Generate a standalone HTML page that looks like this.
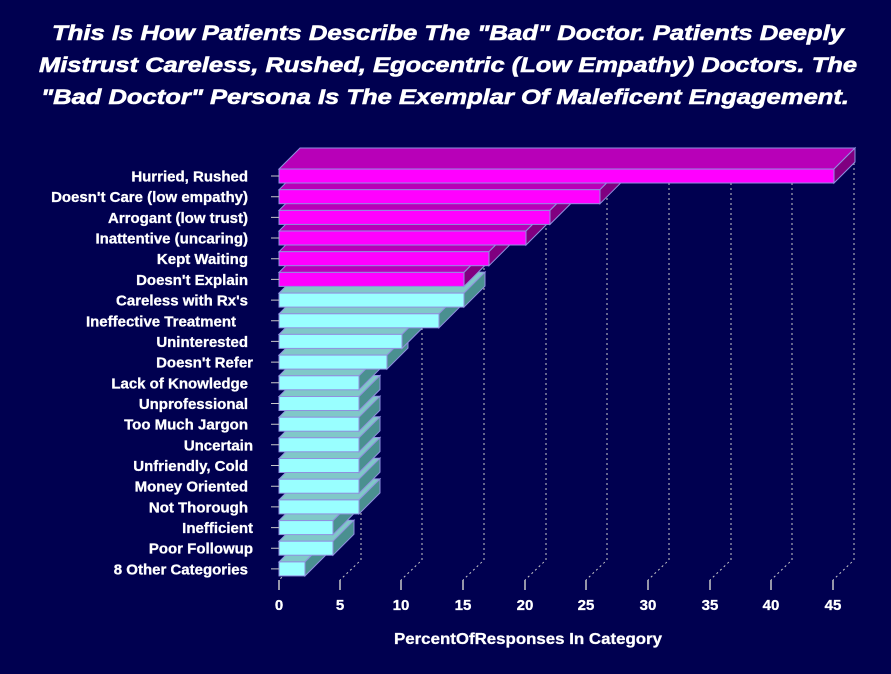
<!DOCTYPE html>
<html><head><meta charset="utf-8"><style>
html,body{margin:0;padding:0;background:#000050;}
svg{display:block;}
text{font-family:"Liberation Sans",sans-serif;fill:#fff;font-weight:bold;}
</style></head><body>
<svg width="891" height="674" viewBox="0 0 891 674" xmlns="http://www.w3.org/2000/svg">
<rect width="891" height="674" fill="#000050"/>
<g font-style="italic" font-size="21" text-anchor="middle" stroke="#fff" stroke-width="0.6">
<text x="448" y="40" textLength="792" lengthAdjust="spacingAndGlyphs">This Is How Patients Describe The "Bad" Doctor. Patients Deeply</text>
<text x="448" y="72" textLength="818" lengthAdjust="spacingAndGlyphs">Mistrust Careless, Rushed, Egocentric (Low Empathy) Doctors. The</text>
<text x="445" y="104" textLength="808" lengthAdjust="spacingAndGlyphs">"Bad Doctor" Persona Is The Exemplar Of Maleficent Engagement.</text>
</g>
<g stroke="#c8c8c8" stroke-width="1" stroke-dasharray="2,3" fill="none">
<path d="M361 148V560L340 580"/><path d="M422 148V560L401 580"/><path d="M484 148V560L463 580"/><path d="M546 148V560L525 580"/><path d="M607 148V560L586 580"/><path d="M669 148V560L648 580"/><path d="M731 148V560L710 580"/><path d="M792 148V560L771 580"/><path d="M854 148V560L833 580"/><path d="M300 560L279 580"/>
</g>
<g stroke="#c8c8c8" stroke-width="1.5">
<path d="M279 580v10M340 580v10M401 580v10M463 580v10M525 580v10M586 580v10M648 580v10M710 580v10M771 580v10M833 580v10"/>
</g>
<g stroke="#9090e0" stroke-width="1">
<g fill="#99ffff"><polygon points="279,561.9 300,540.9 326,540.9 305,561.9" fill="#80c8c8"/><polygon points="305,561.9 326,540.9 326,554.9 305,575.9" fill="#4a9090"/><rect x="279" y="561.9" width="26" height="14"/></g>
<g fill="#99ffff"><polygon points="279,541.2 300,520.2 354,520.2 333,541.2" fill="#80c8c8"/><polygon points="333,541.2 354,520.2 354,534.2 333,555.2" fill="#4a9090"/><rect x="279" y="541.2" width="54" height="14"/></g>
<g fill="#99ffff"><polygon points="279,520.6 300,499.6 354,499.6 333,520.6" fill="#80c8c8"/><polygon points="333,520.6 354,499.6 354,513.6 333,534.6" fill="#4a9090"/><rect x="279" y="520.6" width="54" height="14"/></g>
<g fill="#99ffff"><polygon points="279,499.9 300,478.9 380,478.9 359,499.9" fill="#80c8c8"/><polygon points="359,499.9 380,478.9 380,492.9 359,513.9" fill="#4a9090"/><rect x="279" y="499.9" width="80" height="14"/></g>
<g fill="#99ffff"><polygon points="279,479.2 300,458.2 380,458.2 359,479.2" fill="#80c8c8"/><polygon points="359,479.2 380,458.2 380,472.2 359,493.2" fill="#4a9090"/><rect x="279" y="479.2" width="80" height="14"/></g>
<g fill="#99ffff"><polygon points="279,458.5 300,437.5 380,437.5 359,458.5" fill="#80c8c8"/><polygon points="359,458.5 380,437.5 380,451.5 359,472.5" fill="#4a9090"/><rect x="279" y="458.5" width="80" height="14"/></g>
<g fill="#99ffff"><polygon points="279,437.8 300,416.8 380,416.8 359,437.8" fill="#80c8c8"/><polygon points="359,437.8 380,416.8 380,430.8 359,451.8" fill="#4a9090"/><rect x="279" y="437.8" width="80" height="14"/></g>
<g fill="#99ffff"><polygon points="279,417.2 300,396.2 380,396.2 359,417.2" fill="#80c8c8"/><polygon points="359,417.2 380,396.2 380,410.2 359,431.2" fill="#4a9090"/><rect x="279" y="417.2" width="80" height="14"/></g>
<g fill="#99ffff"><polygon points="279,396.5 300,375.5 380,375.5 359,396.5" fill="#80c8c8"/><polygon points="359,396.5 380,375.5 380,389.5 359,410.5" fill="#4a9090"/><rect x="279" y="396.5" width="80" height="14"/></g>
<g fill="#99ffff"><polygon points="279,375.8 300,354.8 380,354.8 359,375.8" fill="#80c8c8"/><polygon points="359,375.8 380,354.8 380,368.8 359,389.8" fill="#4a9090"/><rect x="279" y="375.8" width="80" height="14"/></g>
<g fill="#99ffff"><polygon points="279,355.1 300,334.1 408,334.1 387,355.1" fill="#80c8c8"/><polygon points="387,355.1 408,334.1 408,348.1 387,369.1" fill="#4a9090"/><rect x="279" y="355.1" width="108" height="14"/></g>
<g fill="#99ffff"><polygon points="279,334.4 300,313.4 423,313.4 402,334.4" fill="#80c8c8"/><polygon points="402,334.4 423,313.4 423,327.4 402,348.4" fill="#4a9090"/><rect x="279" y="334.4" width="123" height="14"/></g>
<g fill="#99ffff"><polygon points="279,313.8 300,292.8 460,292.8 439,313.8" fill="#80c8c8"/><polygon points="439,313.8 460,292.8 460,306.8 439,327.8" fill="#4a9090"/><rect x="279" y="313.8" width="160" height="14"/></g>
<g fill="#99ffff"><polygon points="279,293.1 300,272.1 485,272.1 464,293.1" fill="#80c8c8"/><polygon points="464,293.1 485,272.1 485,286.1 464,307.1" fill="#4a9090"/><rect x="279" y="293.1" width="185" height="14"/></g>
<g fill="#ff00ff"><polygon points="279,272.4 300,251.4 485,251.4 464,272.4" fill="#b800b8"/><polygon points="464,272.4 485,251.4 485,265.4 464,286.4" fill="#800080"/><rect x="279" y="272.4" width="185" height="14"/></g>
<g fill="#ff00ff"><polygon points="279,251.7 300,230.7 510,230.7 489,251.7" fill="#b800b8"/><polygon points="489,251.7 510,230.7 510,244.7 489,265.7" fill="#800080"/><rect x="279" y="251.7" width="210" height="14"/></g>
<g fill="#ff00ff"><polygon points="279,231 300,210 547,210 526,231" fill="#b800b8"/><polygon points="526,231 547,210 547,224 526,245" fill="#800080"/><rect x="279" y="231" width="247" height="14"/></g>
<g fill="#ff00ff"><polygon points="279,210.4 300,189.4 571,189.4 550,210.4" fill="#b800b8"/><polygon points="550,210.4 571,189.4 571,203.4 550,224.4" fill="#800080"/><rect x="279" y="210.4" width="271" height="14"/></g>
<g fill="#ff00ff"><polygon points="279,189.7 300,168.7 621,168.7 600,189.7" fill="#b800b8"/><polygon points="600,189.7 621,168.7 621,182.7 600,203.7" fill="#800080"/><rect x="279" y="189.7" width="321" height="14"/></g>
<g fill="#ff00ff"><polygon points="279,169 300,148 855,148 834,169" fill="#b800b8"/><polygon points="834,169 855,148 855,162 834,183" fill="#800080"/><rect x="279" y="169" width="555" height="14"/></g>
</g>
<g stroke="#c8c8c8" stroke-width="1">
<path d="M271 176h8M271 196.7h8M271 217.4h8M271 238h8M271 258.7h8M271 279.4h8M271 300.1h8M271 320.8h8M271 341.4h8M271 362.1h8M271 382.8h8M271 403.5h8M271 424.2h8M271 444.8h8M271 465.5h8M271 486.2h8M271 506.9h8M271 527.6h8M271 548.2h8M271 568.9h8"/>
</g>
<g font-size="15" text-anchor="end" stroke="#fff" stroke-width="0.3">
<text x="248" y="181.5">Hurried, Rushed</text>
<text x="248" y="202.2">Doesn't Care (low empathy)</text>
<text x="248" y="222.9">Arrogant (low trust)</text>
<text x="248" y="243.5">Inattentive (uncaring)</text>
<text x="248" y="264.2">Kept Waiting</text>
<text x="248" y="284.9">Doesn't Explain</text>
<text x="248" y="305.6">Careless with Rx's</text>
<text x="236" y="326.3">Ineffective Treatment</text>
<text x="248" y="346.9">Uninterested</text>
<text x="253" y="367.6">Doesn't Refer</text>
<text x="248" y="388.3">Lack of Knowledge</text>
<text x="248" y="409">Unprofessional</text>
<text x="248" y="429.7">Too Much Jargon</text>
<text x="253" y="450.3">Uncertain</text>
<text x="248" y="471">Unfriendly, Cold</text>
<text x="248" y="491.7">Money Oriented</text>
<text x="248" y="512.4">Not Thorough</text>
<text x="253" y="533.1">Inefficient</text>
<text x="253" y="553.7">Poor Followup</text>
<text x="248" y="574.4">8 Other Categories</text>
</g>
<g font-size="15" text-anchor="middle" stroke="#fff" stroke-width="0.3">
<text x="279" y="610">0</text><text x="340" y="610">5</text><text x="401" y="610">10</text><text x="463" y="610">15</text><text x="525" y="610">20</text><text x="586" y="610">25</text><text x="648" y="610">30</text><text x="710" y="610">35</text><text x="771" y="610">40</text><text x="833" y="610">45</text>
<text x="528" y="644" font-size="16" textLength="268" lengthAdjust="spacingAndGlyphs">PercentOfResponses In Category</text>
</g>
</svg>
</body></html>
